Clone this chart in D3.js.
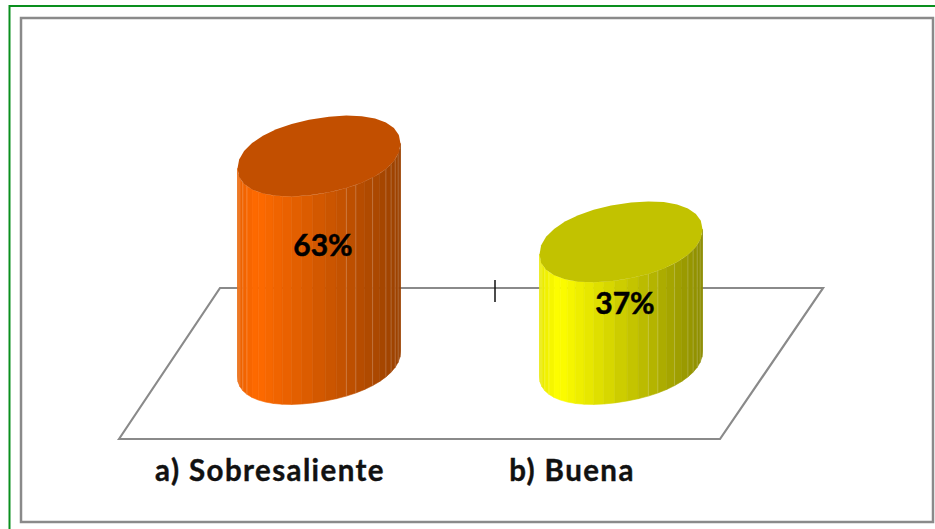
<!DOCTYPE html>
<html><head><meta charset="utf-8">
<script src="https://cdn.jsdelivr.net/npm/d3@7"></script>
<style>html,body{margin:0;padding:0;background:#fff}svg{display:block}</style>
</head><body><div id="chart"></div>
<script>
const categories = ["a) Sobresaliente", "b) Buena"];
const values = [63, 37];
const valueLabels = ["63%", "37%"];
const sideEdge = ["#EA6100", "#E8E800"];
const sideLight = ["#FF6A00", "#FFFF00"];
const sideDark = ["#9A4100", "#8C8C00"];
const capColors = ["#C24F00", "#C2C200"];

const W = 935, H = 529;
const svg = d3.select("#chart").append("svg").attr("width", W).attr("height", H);

// Frames
svg.append("rect").attr("x", 9.5).attr("y", 6).attr("width", W + 20).attr("height", H + 20)
  .attr("fill", "#fff").attr("stroke", "#0A8F1E").attr("stroke-width", 2);
svg.append("rect").attr("x", 21).attr("y", 18).attr("width", 912).attr("height", 504)
  .attr("fill", "#fff").attr("stroke", "#8a8a8a").attr("stroke-width", 2.5);

const x = d3.scaleBand().domain(categories).range([168, 772]);
const y = d3.scaleLinear().domain([0, 63]).range([364, 156]);

// Floor
const floorY0 = 439, floorY1 = 288;
const floor = d3.path();
floor.moveTo(119, floorY0); floor.lineTo(220, floorY1); floor.lineTo(823, floorY1); floor.lineTo(720, floorY0); floor.closePath();
svg.append("path").attr("d", floor.toString()).attr("fill", "#fff").attr("stroke", "#8a8a8a").attr("stroke-width", 2.2);

// Tick between categories
const tickX = x(categories[1]) + 25;
svg.append("line").attr("x1", tickX).attr("x2", tickX).attr("y1", 280).attr("y2", 302)
  .attr("stroke", "#111").attr("stroke-width", 1.5);

// Cylinders
const a = 81.5, skew = -12.5, b = 38, N = 25, p = 0.93;
const pow = v => Math.sign(v) * Math.pow(Math.abs(v), p);
const rim = (cx, cy, t) => {
  const c = pow(Math.cos(t)), s = pow(Math.sin(t));
  return [cx + a * c, cy + skew * c + b * s];
};
const lightEdges = new Set([1, 2, 3, 4, 15, 16, 18, 20, 21, 22, 23]);
const line = d3.line();

categories.forEach((c, i) => {
  const cx = x(c) + x.bandwidth() / 2;
  const yTop = y(values[i]), yBase = y(0);
  const g = svg.append("g");
  const shade = d3.scaleLinear().domain([0, 0.12, 1]).range([sideEdge[i], sideLight[i], sideDark[i]]).clamp(true);
  const facets = d3.range(N).map(k => ({
    k,
    t0: Math.PI - k * Math.PI / N,
    t1: Math.PI - (k + 1) * Math.PI / N
  }));
  const tone = f => shade((rim(0, 0, (f.t0 + f.t1) / 2)[0] + a) / (2 * a));
  g.selectAll("path.facet").data(facets).join("path").attr("class", "facet")
    .attr("d", f => line([rim(cx, yTop, f.t0), rim(cx, yTop, f.t1), rim(cx, yBase, f.t1), rim(cx, yBase, f.t0)]) + "Z")
    .attr("fill", tone)
    .attr("stroke", tone)
    .attr("stroke-width", 0.6);
  g.selectAll("line.edge").data(facets.filter(f => lightEdges.has(f.k))).join("line").attr("class", "edge")
    .attr("x1", f => rim(cx, yTop, f.t0)[0]).attr("y1", f => rim(cx, yTop, f.t0)[1])
    .attr("x2", f => rim(cx, yBase, f.t0)[0]).attr("y2", f => rim(cx, yBase, f.t0)[1])
    .attr("stroke", "#fff").attr("stroke-opacity", 0.2).attr("stroke-width", 1);
  const capPts = d3.range(30).map(k => rim(cx, yTop, k * 2 * Math.PI / 30));
  g.append("path").attr("d", line(capPts) + "Z").attr("fill", capColors[i]);
  g.append("text").attr("x", cx + 4).attr("y", y(values[i] * 0.68 - 6.8)).attr("dy", "0.35em")
    .attr("text-anchor", "middle").attr("font-family", "Lato, sans-serif").attr("font-weight", 700)
    .attr("font-size", 30).attr("stroke", "#000").attr("stroke-width", 0.5).attr("fill", "#000").text(valueLabels[i]);
  svg.append("text").attr("x", cx - 49).attr("y", 481)
    .attr("text-anchor", "middle").attr("font-family", "Lato, sans-serif").attr("font-weight", 700)
    .attr("font-size", 29.5).attr("letter-spacing", 1.4).attr("stroke", "#111").attr("stroke-width", 0.4).attr("fill", "#111").text(c);
});
</script></body></html>
